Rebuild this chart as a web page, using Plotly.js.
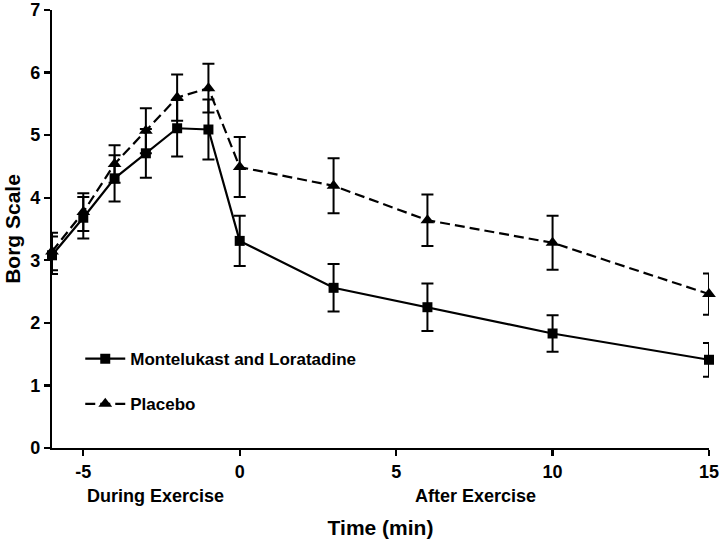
<!DOCTYPE html>
<html><head><meta charset="utf-8">
<script src="https://cdn.plot.ly/plotly-3.0.1.min.js"></script>
<style>html,body{margin:0;padding:0;background:#fff}#chart{width:720px;height:539px}</style>
</head><body><div id="chart"></div>
<script>
const time = [-6, -5, -4, -3, -2, -1, 0, 3, 6, 10, 15];
const montelukast = [3.08, 3.68, 4.31, 4.71, 5.11, 5.09, 3.31, 2.56, 2.25, 1.83, 1.41];
const montelukastErr = [0.30, 0.33, 0.37, 0.39, 0.45, 0.48, 0.40, 0.38, 0.38, 0.29, 0.27];
const placebo = [3.14, 3.77, 4.54, 5.07, 5.60, 5.75, 4.49, 4.19, 3.64, 3.28, 2.46];
const placeboErr = [0.30, 0.30, 0.30, 0.36, 0.37, 0.39, 0.48, 0.44, 0.41, 0.43, 0.33];
const xTicks = [-5, 0, 5, 10, 15];
const yTicks = [0, 1, 2, 3, 4, 5, 6, 7];

const F = 'Liberation Sans, Arial, sans-serif';
const traces = [
  {x: time, y: montelukast, name: 'Montelukast and Loratadine', type: 'scatter', mode: 'lines+markers',
   legendgroup: 'a',
   line: {color: '#000', width: 2.2}, marker: {symbol: 'square', size: 10, color: '#000'},
   error_y: {type: 'data', array: montelukastErr, visible: true, color: '#000', thickness: 2, width: 6},
   cliponaxis: false},
  {x: time, y: placebo, name: 'Placebo', type: 'scatter', mode: 'lines+markers',
   legendgroup: 'b',
   line: {color: '#000', width: 2.2, dash: '10px,5px'}, marker: {symbol: 'triangle-up', size: 12, color: '#000'},
   error_y: {type: 'data', array: placeboErr, visible: true, color: '#000', thickness: 2, width: 6},
   cliponaxis: false}
];
const layout = {
  width: 720, height: 539,
  margin: {l: 52, r: 11, t: 10, b: 91},
  paper_bgcolor: '#fff', plot_bgcolor: '#fff',
  font: {family: F, color: '#000', size: 17},
  showlegend: true,
  legend: {x: 0.043, y: 0.244, xanchor: 'left', yanchor: 'top', bgcolor: 'rgba(0,0,0,0)',
           font: {family: F, size: 17, color: '#000', weight: 'bold'}, tracegroupgap: 20, itemwidth: 40},
  xaxis: {range: [-6, 15], tickvals: xTicks, ticktext: xTicks.map(String), showgrid: false, zeroline: false,
          showline: true, linecolor: '#000', linewidth: 2.2, ticks: 'outside', ticklen: 6, tickwidth: 2.2, tickcolor: '#000',
          tickfont: {family: F, size: 18, weight: 'bold'},
          title: {text: 'Time (min)', font: {family: F, size: 21, weight: 'bold'}, standoff: 40}},
  yaxis: {range: [0, 7], tickvals: yTicks, ticktext: yTicks.map(String), showgrid: false, zeroline: false,
          showline: true, linecolor: '#000', linewidth: 2.2, ticks: 'outside', ticklen: 6, tickwidth: 2.2, tickcolor: '#000',
          tickfont: {family: F, size: 18, weight: 'bold'},
          title: {text: 'Borg Scale', font: {family: F, size: 21, weight: 'bold'}, standoff: 4}},
  annotations: [
    {text: 'During Exercise', x: -2.7, xref: 'x', y: -0.11, yref: 'paper', showarrow: false,
     font: {family: F, size: 18, weight: 'bold'}, xanchor: 'center', yanchor: 'middle'},
    {text: 'After Exercise', x: 7.55, xref: 'x', y: -0.11, yref: 'paper', showarrow: false,
     font: {family: F, size: 18, weight: 'bold'}, xanchor: 'center', yanchor: 'middle'}
  ]
};
Plotly.newPlot('chart', traces, layout, {displayModeBar: false, staticPlot: true});
</script></body></html>
